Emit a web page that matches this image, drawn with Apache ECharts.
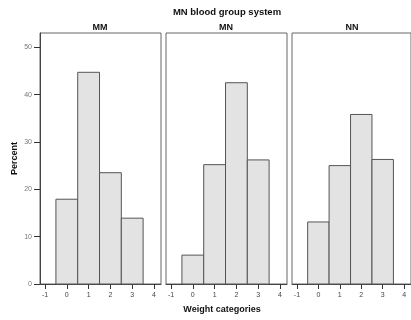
<!DOCTYPE html>
<html>
<head>
<meta charset="utf-8">
<script src="https://cdn.jsdelivr.net/npm/echarts@6/dist/echarts.min.js"></script>
<style>
  html, body { margin: 0; padding: 0; background: #fff; }
  #chart { width: 411px; height: 320px; }
</style>
</head>
<body>
<div id="chart"></div>
<script>
// weight category codes and percent per blood group
const categories = [0, 1, 2, 3];
const groups = ["MM", "MN", "NN"];
const mmPct = [17.9, 44.7, 23.5, 13.9];
const mnPct = [6.1, 25.2, 42.5, 26.2];
const nnPct = [13.1, 25.0, 35.8, 26.3];
const xTicks = [-1, 0, 1, 2, 3, 4];
const yTicks = [0, 10, 20, 30, 40, 50];

const chart = echarts.init(document.getElementById("chart"));
const font = "Liberation Sans";
const panelLefts = [40, 166, 292];
const allPct = [mmPct, mnPct, nnPct];

const grids = panelLefts.map((left) => ({
  left: left,
  width: 121,
  top: 33,
  height: 251,
  show: true,
  borderColor: "#666",
  borderWidth: 1,
  backgroundColor: "transparent",
}));

const xAxes = panelLefts.map((_, i) => ({
  type: "value",
  gridIndex: i,
  min: -1.23,
  max: 4.32,
  axisLine: { show: true, onZero: false, lineStyle: { color: "#444" } },
  axisTick: {
    show: true,
    length: 5,
    customValues: xTicks,
    lineStyle: { color: "#333" },
  },
  axisLabel: {
    customValues: xTicks,
    color: "#444",
    fontSize: 7,
    fontFamily: font,
    margin: 8,
  },
  splitLine: { show: false },
}));

const yAxes = panelLefts.map((_, i) => ({
  type: "value",
  gridIndex: i,
  min: 0,
  max: 53,
  show: i === 0,
  axisLine: { show: true, onZero: false, lineStyle: { color: "#444" } },
  axisTick: {
    show: true,
    length: 6,
    customValues: yTicks,
    lineStyle: { color: "#333" },
  },
  axisLabel: {
    customValues: yTicks,
    color: "#777",
    fontSize: 7,
    fontFamily: font,
    margin: 8,
  },
  splitLine: { show: false },
  name: i === 0 ? "Percent" : "",
  nameLocation: "middle",
  nameGap: 21,
  nameTextStyle: {
    color: "#111",
    fontSize: 9,
    fontWeight: "bold",
    fontFamily: font,
  },
}));

const series = allPct.map((pct, i) => ({
  type: "custom",
  xAxisIndex: i,
  yAxisIndex: i,
  data: categories.map((c, k) => [c, pct[k]]),
  renderItem: (params, api) => {
    const x = api.value(0);
    const v = api.value(1);
    const p0 = api.coord([x - 0.5, v]);
    const p1 = api.coord([x + 0.5, 0]);
    return {
      type: "rect",
      shape: { x: p0[0], y: p0[1], width: p1[0] - p0[0], height: p1[1] - p0[1] },
      style: { fill: "#e3e3e3", stroke: "#555", lineWidth: 1 },
    };
  },
}));

const titles = [
  {
    text: "MN blood group system",
    left: 227,
    top: 7,
    textAlign: "center",
    textStyle: { fontSize: 9.5, fontWeight: "bold", color: "#111", fontFamily: font },
  },
  ...groups.map((g, i) => ({
    text: g,
    left: panelLefts[i] + 60,
    top: 23,
    textAlign: "center",
    textStyle: { fontSize: 9, fontWeight: "bold", color: "#111", fontFamily: font },
  })),
  {
    text: "Weight categories",
    left: 222,
    top: 305,
    textAlign: "center",
    textStyle: { fontSize: 9, fontWeight: "bold", color: "#111", fontFamily: font },
  },
];

chart.setOption({
  animation: false,
  title: titles.map((t) => Object.assign({ padding: 0 }, t)),
  grid: grids,
  xAxis: xAxes,
  yAxis: yAxes,
  series: series,
});
</script>
</body>
</html>
